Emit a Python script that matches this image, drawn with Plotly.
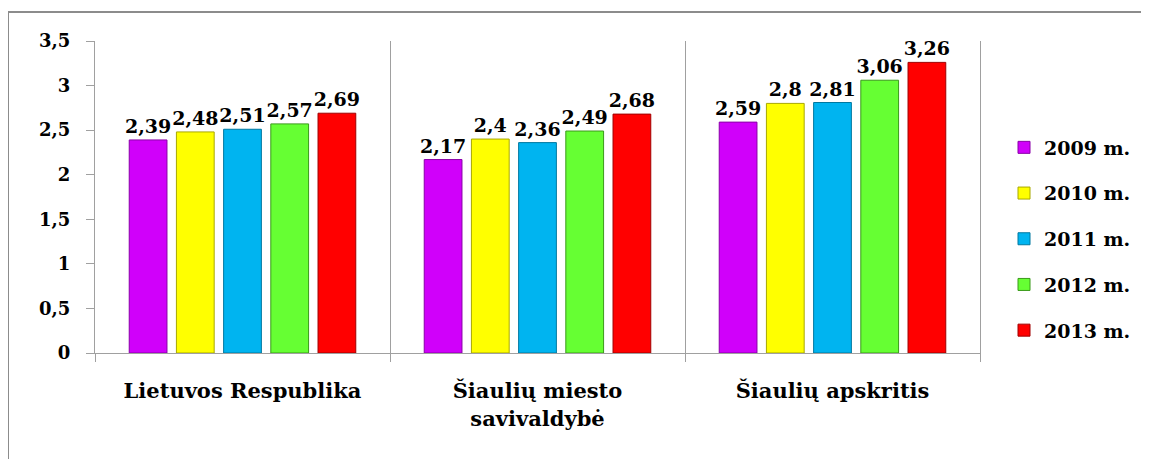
import plotly.graph_objects as go

categories = ["Lietuvos Respublika", "Šiaulių miesto<br>savivaldybė", "Šiaulių apskritis"]
years = ["2009 m.", "2010 m.", "2011 m.", "2012 m.", "2013 m."]
v2009 = [2.39, 2.17, 2.59]
v2010 = [2.48, 2.4, 2.8]
v2011 = [2.51, 2.36, 2.81]
v2012 = [2.57, 2.49, 3.06]
v2013 = [2.69, 2.68, 3.26]
series = [v2009, v2010, v2011, v2012, v2013]
colors = ["#D000FA", "#FFFF00", "#00B4F0", "#66FF33", "#FF0000"]
edges = ["#8A00A8", "#A8A800", "#0078A0", "#3A9A1A", "#A00000"]

FONT = "DejaVu Serif"

fig = go.Figure()
for name, vals, c, e in zip(years, series, colors, edges):
    fig.add_trace(go.Bar(
        x=categories, y=vals, name=name, legendgroup=name,
        marker=dict(color=c, line=dict(color=e, width=1)),
        text=[f"{v:g}".replace(".", ",") for v in vals],
        textposition="outside", cliponaxis=False, constraintext="none",
        textfont=dict(family=FONT, size=19, color="black", weight="bold"),
    ))

OFF = 8
W, H = 1149 - OFF, 459 - OFF
L, T = 95 - OFF, 41 - OFF
pw, ph = 885, 312
R, B = W - L - pw, H - T - ph

def px_x(p):
    return (p - OFF - L) / pw

def px_y(p):
    return (T + ph - (p - OFF)) / ph

fig.update_layout(
    width=W, height=H,
    margin=dict(l=L, r=R, t=T, b=B, autoexpand=False),
    paper_bgcolor="white", plot_bgcolor="white",
    separators=",.",
    barmode="group", bargap=0.2, bargroupgap=0.2,
    font=dict(family=FONT, size=19, color="black", weight="bold"),
    showlegend=True,
    legend=dict(
        x=px_x(1004), y=px_y(239), xanchor="left", yanchor="middle",
        font=dict(family=FONT, size=19, color="black", weight="bold"),
        tracegroupgap=18, itemwidth=30,
        bgcolor="rgba(0,0,0,0)",
    ),
    xaxis=dict(
        showline=True, linecolor="#A0A0A0", linewidth=1,
        tickson="boundaries", ticks="outside", ticklen=8, tickcolor="#A0A0A0",
        showgrid=True, gridcolor="#A0A0A0", gridwidth=1,
        ticklabelstandoff=19,
        tickfont=dict(family=FONT, size=21, color="black", weight="bold"),
    ),
    yaxis=dict(
        range=[0, 3.5], dtick=0.5, tick0=0,
        showline=True, linecolor="#A0A0A0", linewidth=1, mirror=True,
        ticks="outside", ticklen=8, tickcolor="#A0A0A0",
        showgrid=False, zeroline=False,
        ticklabelstandoff=12,
        tickfont=dict(family=FONT, size=18, color="black", weight="bold"),
    ),
    shapes=[dict(
        type="rect", xref="paper", yref="paper",
        x0=px_x(8), x1=px_x(1170), y0=px_y(480), y1=px_y(12),
        line=dict(color="#8C8C8C", width=2), layer="below",
    )],
)

fig.write_html("out.html")
